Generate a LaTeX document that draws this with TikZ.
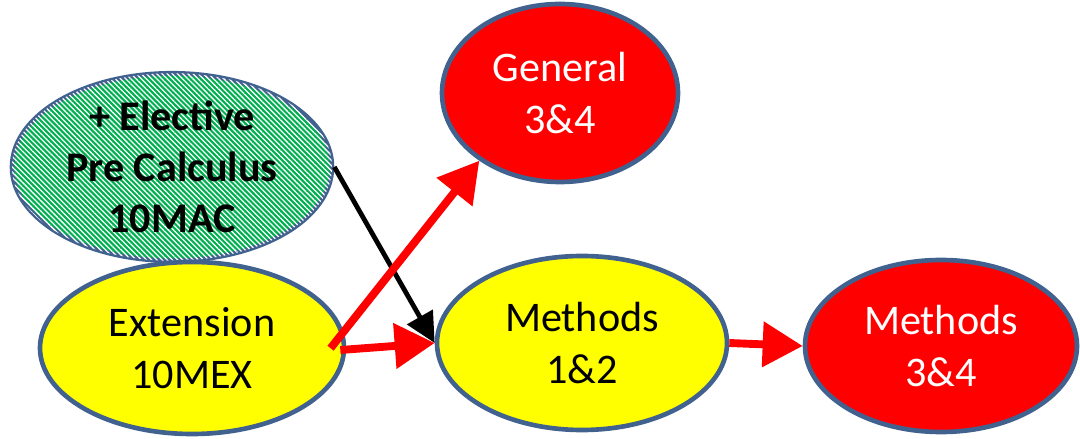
\documentclass[tikz,border=0pt]{standalone}
\usepackage{fontspec}
\setmainfont{Carlito}
\usepackage{xcolor}
\usepackage{tikz}
\usetikzlibrary{positioning,arrows.meta,shapes.geometric,patterns.meta}
\definecolor{cborde}{HTML}{41618F}
\definecolor{crojo}{HTML}{FF0000}
\definecolor{camarillo}{HTML}{FFFF00}
\definecolor{cverde}{HTML}{00B050}
\tikzset{
  elipse/.style={ellipse, draw=cborde, line width=3.3pt, inner sep=0pt,
    align=center, font=\fontsize{30}{36.5}\selectfont},
  elipser/.style={elipse, fill=crojo, text=white},
  elipsea/.style={elipse, fill=camarillo, text=black},
  elipsev/.style={elipse, fill=cverde, text=black,
    font=\fontsize{30}{36.5}\selectfont\bfseries,
    postaction={pattern={Lines[angle=-45,distance=2.6pt,line width=0.9pt]}, pattern color=white}},
  flechar/.style={-{Triangle[length=1cm,width=1.1cm]}, line width=5.6pt, draw=crojo},
  flechan/.style={-{Triangle[length=0.75cm,width=0.72cm]}, line width=3.4pt, draw=black},
}
\begin{document}
\begin{tikzpicture}
  \useasboundingbox (0,0) rectangle (27,10.975);
  \node[elipsev, minimum width=8cm, minimum height=4.55cm] (precalc) at (4.3,6.8)
    {+ Elective\\Pre Calculus\\10MAC};
  \node[elipser, minimum width=5.9cm, minimum height=4.45cm] (gen) at (14.0,8.65)
    {General\\3\&4};
  \node[elipsea, minimum width=7.6cm, minimum height=4.3cm] (ext) at (4.8,2.275)
    {Extension\\10MEX};
  \node[elipsea, minimum width=7.25cm, minimum height=4.35cm] (met12) at (14.55,2.4)
    {Methods\\1\&2};
  \node[elipser, minimum width=6.8cm, minimum height=4.3cm] (met34) at (23.525,2.325)
    {Methods\\3\&4};
  \draw[flechan] (precalc.east) -- (met12.west);
  \draw[flechar, shorten <=-2pt] ([xshift=-0.35cm,yshift=0.05cm]ext.east) -- (gen.220);
  \draw[flechar] ([xshift=-0.15cm,yshift=-0.05cm]ext.east) -- (met12.west);
  \draw[flechar] (met12.east) -- (met34.west);
\end{tikzpicture}
\end{document}
